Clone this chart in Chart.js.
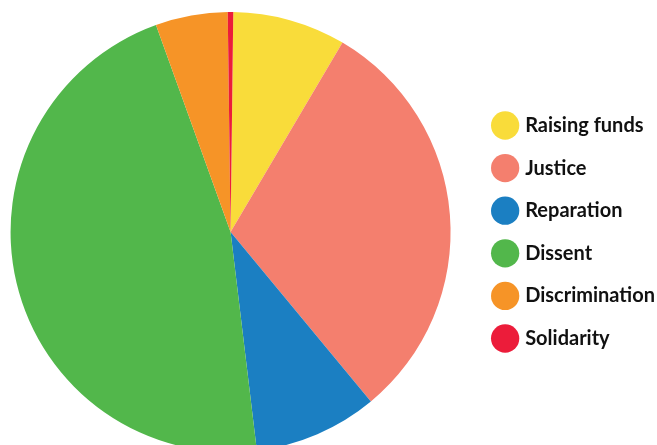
<!DOCTYPE html>
<html>
<head>
<meta charset="utf-8">
<script src="https://cdn.jsdelivr.net/npm/chart.js@4/dist/chart.umd.min.js"></script>
<style>
  html, body { margin: 0; padding: 0; background: #fff; overflow: hidden; }
  #wrap { width: 657px; height: 445px; overflow: hidden; position: relative; }
  #pieChart { position: absolute; left: -12px; top: 0; }
</style>
</head>
<body>
<div id="wrap"><canvas id="pieChart" width="677" height="464"></canvas></div>
<script>
// shares, clockwise from the top
const categories = ['Raising funds', 'Justice', 'Reparation', 'Dissent', 'Discrimination', 'Solidarity'];
const shares = [8.3, 30.5, 9.1, 46.4, 5.3, 0.4];
const colors = ['#F9DC3A', '#F47F6E', '#1B7FC2', '#52B74B', '#F69427', '#EC1C3A'];

const ctx = document.getElementById('pieChart').getContext('2d');
new Chart(ctx, {
  type: 'pie',
  data: {
    labels: categories,
    datasets: [{
      data: shares,
      backgroundColor: colors,
      borderWidth: 0
    }]
  },
  options: {
    responsive: false,
    animation: false,
    rotation: 0.7,
    layout: { padding: { top: 12, bottom: 12, left: 0.6, right: 0 } },
    plugins: {
      tooltip: { enabled: false },
      legend: {
        position: 'right',
        labels: {
          usePointStyle: true,
          pointStyle: 'circle',
          padding: 22.6,
          color: '#111',
          font: { family: 'Lato', size: 20, weight: 'bold' }
        }
      }
    }
  }
});
</script>
</body>
</html>
